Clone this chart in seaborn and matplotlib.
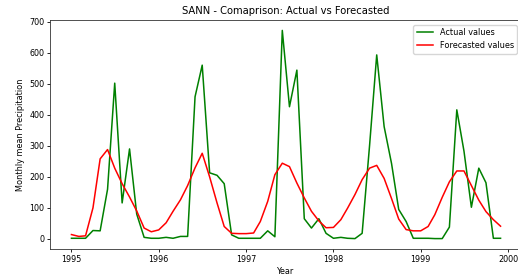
import pandas as pd
import matplotlib
matplotlib.use('Agg')
import matplotlib.pyplot as plt
import seaborn as sns

#%% data (monthly, 1995-01 .. 1999-12)
months = pd.date_range('1995-01-01', periods=60, freq='MS')

actual_values = [
    2, 2, 2, 27, 26, 160, 502, 116, 290, 80, 5, 2,        # 1995
    2, 5, 2, 8, 8, 458, 560, 213, 205, 178, 13, 2,        # 1996
    2, 2, 2, 26, 7, 672, 426, 544, 65, 35, 65, 18,        # 1997
    2, 5, 2, 1, 18, 300, 593, 362, 243, 95, 56, 2,        # 1998
    2, 2, 1, 1, 38, 416, 283, 102, 228, 181, 2, 2,        # 1999
]
forecasted_values = [
    14, 8, 10, 100, 258, 288, 228, 178, 135, 90, 35, 23,
    29, 52, 89, 126, 172, 229, 276, 200, 116, 40, 18, 17,
    17, 19, 56, 121, 207, 244, 233, 180, 132, 89, 58, 36,
    37, 62, 99, 143, 191, 228, 237, 195, 130, 64, 30, 26,
    26, 40, 78, 134, 184, 219, 219, 172, 125, 88, 62, 41,
]

df = pd.DataFrame({'Year': months, 'actual': actual_values, 'forecast': forecasted_values})

#%% figure
fs = 5.9
fig = plt.figure(figsize=(5.18, 2.78), dpi=100)
# axes runs a little past the right edge, like the cropped original
ax = fig.add_axes([50 / 518, 29 / 278, 472 / 518, 229 / 278])

sns.lineplot(data=df, x='Year', y='actual', color='green', lw=1.1, label='Actual values', ax=ax)
sns.lineplot(data=df, x='Year', y='forecast', color='red', lw=1.1, label='Forecasted values', ax=ax)

ax.set_title('SANN - Comaprison: Actual vs Forecasted', fontsize=7.2, pad=4)
ax.set_xlabel('Year', fontsize=fs, labelpad=2)
ax.set_ylabel('Monthly mean Precipitation', fontsize=fs, labelpad=3)
ax.tick_params(labelsize=5.8, length=2.2, width=0.6, pad=2)
for s in ax.spines.values():
    s.set_linewidth(0.6)
    s.set_color('#333333')
ax.legend(loc='upper right', fontsize=fs, frameon=True, borderaxespad=0.6,
          handlelength=2, framealpha=0.8, edgecolor='#cccccc', fancybox=True)

fig.savefig('out.png', dpi=100)
